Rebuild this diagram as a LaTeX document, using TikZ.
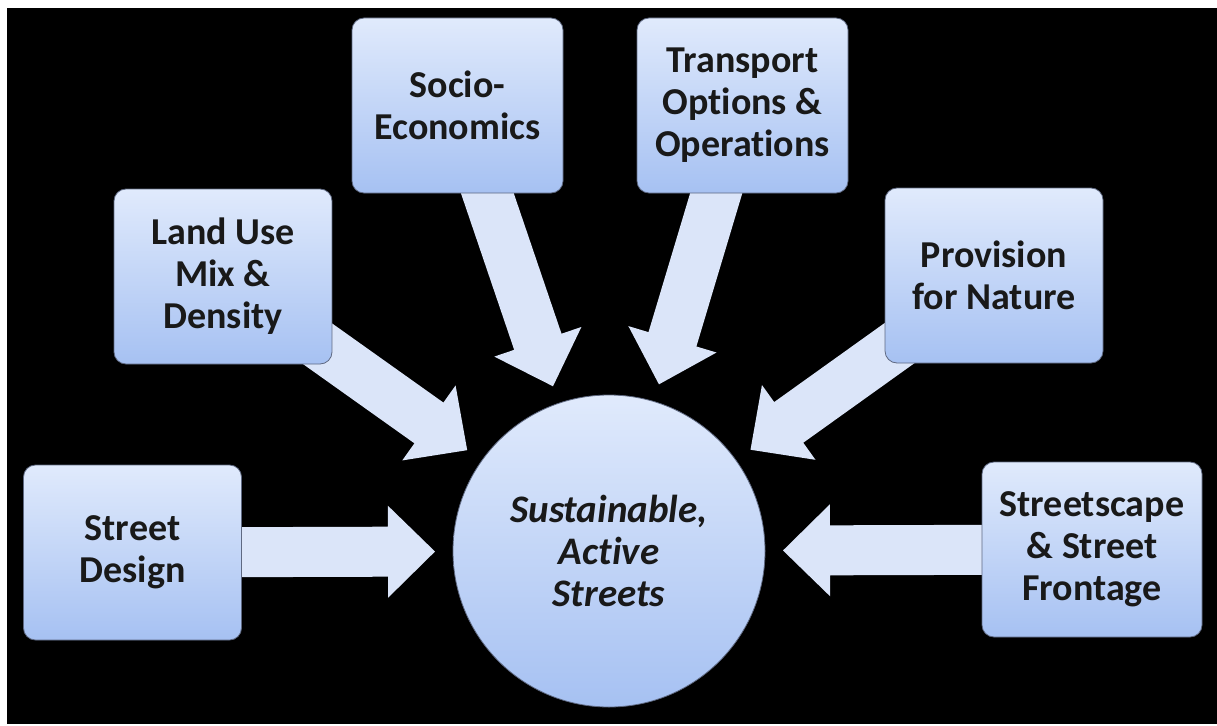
\documentclass[tikz,border=0pt]{standalone}
\usepackage{fontspec}
\setmainfont{Carlito}[Ligatures=NoCommon]
\usetikzlibrary{calc}
\definecolor{boxtop}{RGB}{224,234,252}
\definecolor{boxbot}{RGB}{166,193,242}
\definecolor{arrowc}{RGB}{219,229,249}
\definecolor{edgec}{RGB}{95,105,130}
\pgfdeclarelayer{back}
\pgfdeclarelayer{bg}
\pgfsetlayers{back,bg,main}
\tikzset{
  factor/.style={rectangle, rounded corners=12pt, top color=boxtop, bottom color=boxbot,
    draw=edgec, line width=0.8pt, minimum width=218pt, minimum height=175pt, inner sep=0pt,
    align=center, font=\fontsize{38}{42}\selectfont\bfseries, text=black!90},
  hub/.style={circle, top color=boxtop, bottom color=boxbot, draw=edgec, line width=0.8pt,
    minimum size=312pt, inner sep=0pt, align=center,
    font=\fontsize{39}{42}\selectfont\bfseries\itshape, text=black!90},
  arrowfill/.style={fill=arrowc}
}
\newcommand\fatarr[1]{%
  \coordinate (#1-T) at ($(cc.center)!174pt!(#1.center)$);
  \coordinate (#1-H) at ($(#1-T)!47pt!(#1.center)$);
  \fill[arrowfill] ($(#1.center)!25pt!90:(#1-T)$) -- ($(#1-H)!25pt!90:(#1-T)$)
    -- ($(#1-H)!46pt!90:(#1-T)$) -- (#1-T) -- ($(#1-H)!46pt!-90:(#1-T)$)
    -- ($(#1-H)!25pt!-90:(#1-T)$) -- ($(#1.center)!25pt!-90:(#1-T)$) -- cycle;}
\begin{document}
\begin{tikzpicture}[x=1pt,y=-1pt]
\useasboundingbox (0,0) rectangle (1217,725);
\begin{pgfonlayer}{back}
  \fill[white] (0,0) rectangle (1217,725);
  \fill[black] (7,8) rectangle (1217,724);
\end{pgfonlayer}
\node[hub] (cc) at (609,551) {Sustainable,\\Active\\Streets};
\node[factor] (sd) at (132.5,552.5) {Street\\Design};
\node[factor] (lu) at (223,276.5) {Land Use\\Mix \&\\Density};
\node[factor, minimum width=211pt] (se) at (457.5,105.5) {Socio-\\Economics};
\node[factor, minimum width=211pt] (tr) at (742.5,105.5) {Transport\\Options \&\\Operations};
\node[factor] (pn) at (994,275.5) {Provision\\for Nature};
\node[factor, minimum width=220pt] (ss) at (1092,549.5) {Streetscape\\\& Street\\Frontage};
\begin{pgfonlayer}{bg}
  \fatarr{sd}
  \fatarr{lu}
  \fatarr{se}
  \fatarr{tr}
  \fatarr{pn}
  \fatarr{ss}
\end{pgfonlayer}
\end{tikzpicture}
\end{document}
